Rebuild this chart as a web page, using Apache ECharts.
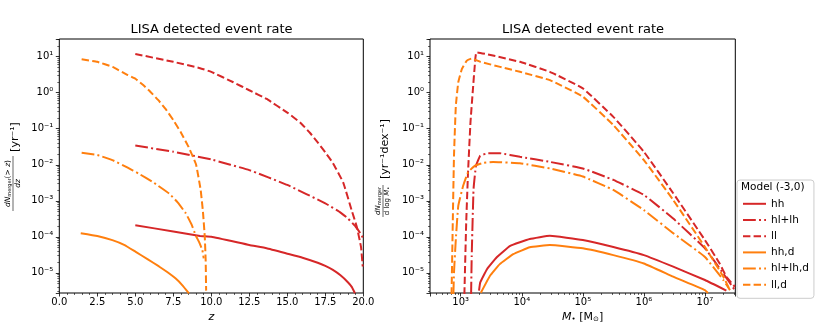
<!DOCTYPE html>
<html lang="en">
<head>
<meta charset="UTF-8">
<title>LISA detected event rate</title>
<style>html,body{margin:0;padding:0;background:#fff}</style>
</head>
<body>
<div id="chart" style="width:822px;height:329px"></div>
<script src="https://cdn.jsdelivr.net/npm/echarts@6/dist/echarts.min.js"></script>
<script>
// legend names, in plot order
var modelNames = ['hh', 'hl+lh', 'll', 'hh,d', 'hl+lh,d', 'll,d'];

// left panel: [z, dN(>z)/dz in yr^-1]
var zHH = [[5, 2.1e-4], [7.5, 1.4e-4], [9.26, 1.05e-4], [10, 1.0e-4], [12.5, 5.9e-5], [13.64, 4.8e-5], [15, 3.4e-5], [16, 2.63e-5], [17, 1.9e-5], [17.5, 1.55e-5], [18, 1.2e-5], [18.5, 8.5e-6], [19, 5.4e-6], [19.25, 4.0e-6], [19.45, 2.7e-6]];
var zHLLH = [[5, 0.034], [7.5, 0.023], [10, 0.014], [12.5, 7.1e-3], [15, 2.75e-3], [17.5, 8.5e-4], [18.5, 4.7e-4], [19, 3.2e-4], [19.5, 1.9e-4], [19.8, 1.26e-4], [20, 8.9e-5]];
var zLL = [[5, 11.9], [7.5, 7.2], [9.26, 4.8], [10, 3.8], [11.45, 1.95], [12.5, 1.17], [13.64, 0.67], [15, 0.28], [15.84, 0.15], [16.5, 0.076], [17, 0.042], [17.5, 0.022], [18, 0.0112], [18.68, 3.2e-3], [19.23, 5.5e-4], [19.57, 1.9e-4], [19.85, 5.2e-5], [19.96, 1.5e-5]];
var zHHd = [[1.41, 1.26e-4], [2.5, 1.05e-4], [3.49, 8.1e-5], [4.3, 5.9e-5], [5.03, 3.8e-5], [5.8, 2.4e-5], [6.56, 1.5e-5], [7.1, 1.05e-5], [7.66, 6.9e-6], [8.1, 4.5e-6], [8.53, 2.7e-6]];
var zHLLHd = [[1.47, 0.0214], [2.5, 0.0186], [3.49, 0.0135], [4.5, 8.3e-3], [5.2, 5.75e-3], [6.2, 3.2e-3], [7.22, 1.6e-3], [7.8, 8.9e-4], [8.32, 4.5e-4], [8.7, 2.2e-4], [8.97, 1.1e-4], [9.2, 7.1e-5], [9.41, 4.3e-5], [9.5, 2.5e-5]];
var zLLd = [[1.47, 8.5], [2.5, 7.2], [3.5, 5.2], [4.5, 3.1], [5.03, 2.4], [5.5, 1.66], [6, 1.05], [6.5, 0.63], [7, 0.35], [7.5, 0.174], [8, 0.079], [8.5, 0.0316], [9, 0.01], [9.3, 2.0e-3], [9.45, 5.0e-4], [9.57, 1.0e-4], [9.63, 2.2e-5], [9.66, 3.2e-6]];

// right panel: [M in Msun, dN/dlogM in yr^-1 dex^-1]
var mHH = [[1995, 3.2e-6], [2089, 5.4e-6], [2692, 1.26e-5], [3890, 2.7e-5], [6457, 5.6e-5], [13490, 8.7e-5], [28840, 1.07e-4], [1e5, 8.1e-5], [3.16e5, 5.2e-5], [1e6, 3.1e-5], [3.02e6, 1.48e-5], [1e7, 6.3e-6], [2.24e7, 3.2e-6]];
var mHLLH = [[1479, 2.5e-6], [1514, 2.95e-5], [1622, 2.1e-3], [1778, 9.3e-3], [2089, 0.0178], [2818, 0.0209], [4365, 0.0209], [9333, 0.0166], [28840, 0.012], [1e5, 7.9e-3], [3.16e5, 3.8e-3], [1e6, 1.45e-3], [3.02e6, 3.2e-4], [1e7, 4.8e-5], [2.0e7, 9.5e-6], [3.09e7, 3.3e-6]];
var mLL = [[1148, 2.5e-6], [1230, 2.5e-4], [1318, 6.2e-3], [1445, 0.151], [1585, 1.26], [1698, 5.6], [1820, 13.2], [9333, 7.2], [28840, 3.8], [1e5, 1.32], [3.16e5, 0.214], [1e6, 0.0229], [3.02e6, 1.62e-3], [1e7, 8.1e-5], [1.74e7, 1.82e-5], [2.24e7, 7.8e-6], [3.09e7, 4.1e-6]];
var mHHd = [[2138, 2.8e-6], [3020, 8.3e-6], [4365, 1.74e-5], [7244, 3.3e-5], [13490, 5.1e-5], [28840, 5.9e-5], [1e5, 4.8e-5], [3.16e5, 3.1e-5], [1e6, 1.82e-5], [3.02e6, 7.8e-6], [1e7, 3.3e-6], [1.12e7, 2.75e-6]];
var mHLLHd = [[759, 2.5e-6], [776, 1.02e-5], [832, 8.7e-5], [912, 7.2e-4], [1096, 2.6e-3], [1318, 6.2e-3], [1698, 9.3e-3], [2344, 0.0112], [3388, 0.012], [9333, 0.011], [28840, 7.9e-3], [1e5, 4.7e-3], [3.16e5, 2.0e-3], [1e6, 5.5e-4], [3.02e6, 1.26e-4], [1e7, 2.75e-5], [2.0e7, 6.3e-6], [2.57e7, 3.3e-6]];
var mLLd = [[708, 2.5e-6], [741, 2.5e-4], [776, 0.0178], [832, 0.436], [912, 1.95], [1047, 4.6], [1259, 7.8], [1514, 8.9], [2089, 7.2], [9333, 3.8], [28840, 2.24], [1e5, 0.78], [3.16e5, 0.126], [1e6, 0.0135], [3.02e6, 1.05e-3], [1e7, 5.2e-5], [2.0e7, 7.8e-6], [2.57e7, 3.3e-6]];

var zTickLabels = ['0.0', '2.5', '5.0', '7.5', '10.0', '12.5', '15.0', '17.5', '20.0'];

var RED = '#d62728', ORANGE = '#ff7f0e';
var DASH = [7.4, 3.2], DASHDOT = [12.8, 3.2, 2, 3.2];
var FONT = 'DejaVu Sans';

var chart = echarts.init(document.getElementById('chart'));

function supNum(n) {
	var m = {'-': '\u207B', '0': '\u2070', '1': '\u00B9', '2': '\u00B2', '3': '\u00B3', '4': '\u2074',
		'5': '\u2075', '6': '\u2076', '7': '\u2077', '8': '\u2078', '9': '\u2079'};
	return String(n).split('').map(function (c) { return m[c]; }).join('');
}
// only label the decades
function logLabel(v) {
	var e = Math.log10(v), r = Math.round(e);
	if (Math.abs(e - r) > 1e-6) return '';
	return '10' + supNum(r);
}

function line(name, data, idx, color, dash) {
	return {
		name: name, type: 'line', xAxisIndex: idx, yAxisIndex: idx,
		data: data, symbol: 'none', smooth: 0.1,
		lineStyle: {color: color, width: 2, type: dash},
		itemStyle: {color: color}
	};
}

var labelStyle = {color: '#000', fontFamily: FONT, fontSize: 10};
var tickStyle = {show: true, length: 3.5, lineStyle: {color: '#000', width: 0.8}};
var logMinor = {show: true, splitNumber: 9, length: 2, lineStyle: {color: '#000', width: 0.6}};

function logY(idx) {
	return {
		type: 'log', logBase: 10, gridIndex: idx, min: 2.75e-6, max: 31, splitNumber: 7,
		axisLine: {show: false}, splitLine: {show: false}, axisTick: tickStyle, minorTick: logMinor,
		axisLabel: Object.assign({margin: 6, formatter: logLabel}, labelStyle)
	};
}

option = {
	animation: false,
	textStyle: {fontFamily: FONT},
	title: [
		{text: 'LISA detected event rate', left: 211.5, top: 23, textAlign: 'center', padding: 0,
			textStyle: {fontSize: 13, fontWeight: 'normal', color: '#000', fontFamily: FONT}},
		{text: 'LISA detected event rate', left: 583, top: 23, textAlign: 'center', padding: 0,
			textStyle: {fontSize: 13, fontWeight: 'normal', color: '#000', fontFamily: FONT}}
	],
	grid: [
		{left: 59.3, right: 458.7, top: 39, bottom: 36, show: true, borderColor: '#000', borderWidth: 1},
		{left: 430, right: 86.7, top: 39, bottom: 36, show: true, borderColor: '#000', borderWidth: 1}
	],
	legend: {
		data: modelNames, orient: 'vertical', left: 737, top: 180,
		itemWidth: 23, itemHeight: 10, itemGap: 5.2,
		padding: [18.3, 5, 8, 5],
		backgroundColor: '#fff', borderColor: '#ccc', borderWidth: 1, borderRadius: 3,
		selectedMode: false,
		itemStyle: {opacity: 0},
		textStyle: {fontFamily: FONT, fontSize: 10.5, color: '#000', lineHeight: 10}
	},
	xAxis: [
		{
			type: 'value', gridIndex: 0, min: 0, max: 20, interval: 2.5,
			axisLine: {show: false}, splitLine: {show: false}, axisTick: tickStyle,
			minorTick: {show: true, splitNumber: 5, length: 2, lineStyle: {color: '#000', width: 0.6}},
			axisLabel: Object.assign({margin: 4, formatter: function (v) {
				return zTickLabels[Math.round(v / 2.5)];
			}}, labelStyle),
			name: 'z', nameLocation: 'middle', nameGap: 15,
			nameTextStyle: {fontFamily: FONT, fontSize: 11, fontStyle: 'italic', color: '#000'}
		},
		{
			type: 'log', logBase: 10, gridIndex: 1, min: 314, max: 3.14e7, splitNumber: 5,
			axisLine: {show: false}, splitLine: {show: false}, axisTick: tickStyle, minorTick: logMinor,
			axisLabel: Object.assign({margin: 4, formatter: logLabel}, labelStyle),
			name: '{i|M}{s|\u2022} [M{s|\u2299}]', nameLocation: 'middle', nameGap: 15,
			nameTextStyle: {fontFamily: FONT, fontSize: 11, color: '#000',
				rich: {
					i: {fontFamily: FONT, fontSize: 11, fontStyle: 'italic', color: '#000'},
					s: {fontFamily: FONT, fontSize: 7, color: '#000', verticalAlign: 'bottom', padding: [4, 0, 0, 0]}
				}}
		}
	],
	yAxis: [logY(0), logY(1)],
	graphic: [
		// left y label: dN_merger(>z)/dz [yr^-1]
		{
			type: 'group', x: 13, y: 167, rotation: Math.PI / 2, z: 100,
			children: [
				{type: 'text', style: {x: -16.5, y: -4.5, align: 'center', verticalAlign: 'middle',
					text: '{i|dN}{s|merger}{n|(> }{i|z}{n|)}', fill: '#000',
					rich: {
						i: {fontFamily: FONT, fontSize: 7.5, fontStyle: 'italic'},
						n: {fontFamily: FONT, fontSize: 7.5},
						s: {fontFamily: FONT, fontSize: 5, verticalAlign: 'bottom', padding: [3, 0, 0, 0]}
					}}},
				{type: 'line', shape: {x1: -44, y1: 0, x2: 11, y2: 0}, style: {stroke: '#000', lineWidth: 0.6}},
				{type: 'text', style: {x: -16.5, y: 4.8, align: 'center', verticalAlign: 'middle',
					text: 'dz', fill: '#000', font: 'italic 7.5px "DejaVu Sans"'}},
				{type: 'text', style: {x: 30, y: 2, align: 'center', verticalAlign: 'middle',
					text: '[yr\u207B\u00B9]', fill: '#000', font: '11px "DejaVu Sans"'}}
			]
		},
		// right y label: dN_merger/dlog M. [yr^-1 dex^-1]
		{
			type: 'group', x: 383, y: 166, rotation: Math.PI / 2, z: 100,
			children: [
				{type: 'text', style: {x: -35, y: -4.5, align: 'center', verticalAlign: 'middle',
					text: '{i|dN}{s|merger}', fill: '#000',
					rich: {
						i: {fontFamily: FONT, fontSize: 7, fontStyle: 'italic'},
						s: {fontFamily: FONT, fontSize: 5, verticalAlign: 'bottom', padding: [3, 0, 0, 0]}
					}}},
				{type: 'line', shape: {x1: -51, y1: 0, x2: -19, y2: 0}, style: {stroke: '#000', lineWidth: 0.6}},
				{type: 'text', style: {x: -35, y: 4.5, align: 'center', verticalAlign: 'middle',
					text: '{n|d log }{i|M}{s|\u2022}', fill: '#000',
					rich: {
						i: {fontFamily: FONT, fontSize: 7, fontStyle: 'italic'},
						n: {fontFamily: FONT, fontSize: 7},
						s: {fontFamily: FONT, fontSize: 5, verticalAlign: 'bottom', padding: [3, 0, 0, 0]}
					}}},
				{type: 'text', style: {x: 17, y: 2, align: 'center', verticalAlign: 'middle',
					text: '[yr\u207B\u00B9dex\u207B\u00B9]', fill: '#000', font: '11px "DejaVu Sans"'}}
			]
		},
		// legend title
		{type: 'text', left: 741, top: 182, z: 100,
			style: {text: 'Model (-3,0)', fill: '#000', font: '10.5px "DejaVu Sans"'}}
	],
	series: [
		line('hh', zHH, 0, RED, 'solid'),
		line('hl+lh', zHLLH, 0, RED, DASHDOT),
		line('ll', zLL, 0, RED, DASH),
		line('hh,d', zHHd, 0, ORANGE, 'solid'),
		line('hl+lh,d', zHLLHd, 0, ORANGE, DASHDOT),
		line('ll,d', zLLd, 0, ORANGE, DASH),
		line('hh', mHH, 1, RED, 'solid'),
		line('hl+lh', mHLLH, 1, RED, DASHDOT),
		line('ll', mLL, 1, RED, DASH),
		line('hh,d', mHHd, 1, ORANGE, 'solid'),
		line('hl+lh,d', mHLLHd, 1, ORANGE, DASHDOT),
		line('ll,d', mLLd, 1, ORANGE, DASH)
	]
};
chart.setOption(option);
</script>
</body>
</html>
